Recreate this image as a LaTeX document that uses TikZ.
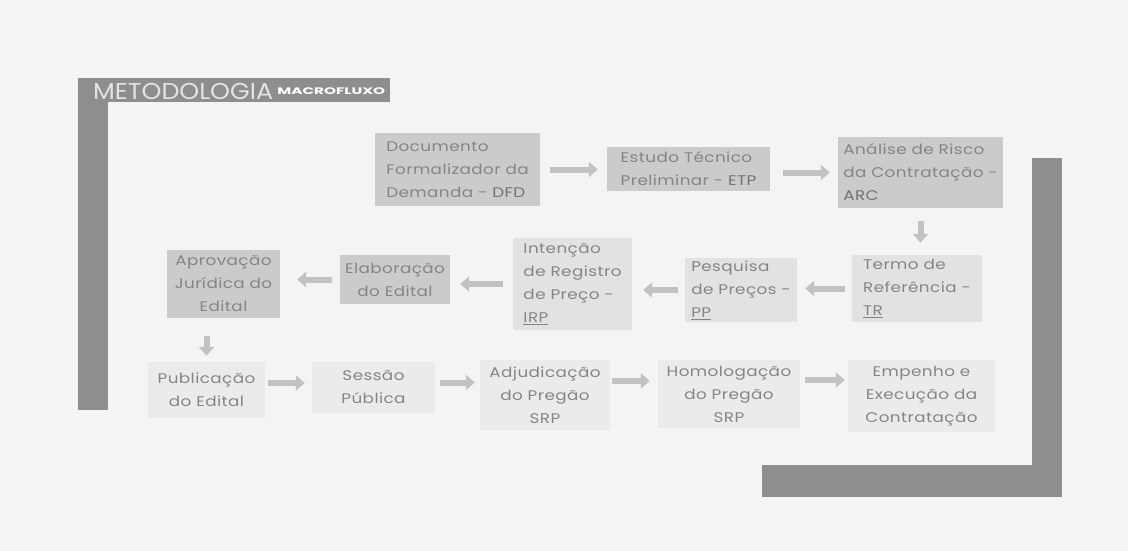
\documentclass[tikz,border=0pt]{standalone}
\usepackage{fontspec}
\setmainfont{Poppins}
\newfontfamily\boxfont[FakeStretch=1.2, LetterSpace=3]{Poppins}
\newfontfamily\titlefont[FakeStretch=1.1]{Poppins}
\usetikzlibrary{arrows.meta}
\definecolor{paper}{HTML}{F4F4F4}
\definecolor{barc}{HTML}{8E8E8E}
\definecolor{darkbox}{HTML}{CBCBCB}
\definecolor{midbox}{HTML}{E2E2E2}
\definecolor{lightbox}{HTML}{EBEBEB}
\definecolor{txt}{HTML}{858585}
\definecolor{arrowc}{HTML}{C2C2C2}
\tikzset{
  box/.style={inner sep=3pt, text=txt, font=\boxfont\fontsize{14}{23}\selectfont},
  dbox/.style={box, fill=darkbox},
  mbox/.style={box, fill=midbox},
  lbox/.style={box, fill=lightbox, align=center},
  flow/.style={line width=6pt, draw=arrowc, -{Triangle[width=15pt,length=9pt]}},
}
\begin{document}
\begin{tikzpicture}[x=1pt,y=-1pt]
\useasboundingbox (0,0) rectangle (1128,551);
\fill[paper] (0,0) rectangle (1128,551);
% brackets
\fill[barc] (78,78) rectangle (108,410);
\fill[barc] (78,78) rectangle (390,102);
\fill[barc] (1032,158) rectangle (1062,497);
\fill[barc] (762,465) rectangle (1062,497);
\node[anchor=west, inner sep=0pt, text=white!75!barc, font=\titlefont\fontsize{23}{23}\selectfont] (title) at (93,91) {METODOLOGIA};
\node[anchor=west, inner sep=0pt, text=white, font=\bfseries\fontsize{9.5}{10}\selectfont] (macro) at ([xshift=4pt]title.east) {\scalebox{1.6}[1]{MACROFLUXO}};
% row 1
\node[dbox, minimum width=165, minimum height=73, align=left] (dfd) at (457.5,169.5) {Documento\\Formalizador da\\Demanda - \textcolor{black!55}{DFD}};
\node[dbox, minimum width=163, minimum height=44, align=left] (etp) at (688.5,169) {Estudo Técnico\\Preliminar - \textcolor{black!55}{ETP}};
\node[dbox, minimum width=165, minimum height=71, align=left] (arc) at (920.5,172.5) {Análise de Risco\\da Contratação -\\\textcolor{black!55}{ARC}};
% row 2
\node[mbox, minimum width=130, minimum height=67, align=left] (tr) at (917,288.5) {Termo de\\Referência -\\\underline{TR}};
\node[mbox, minimum width=112, minimum height=64, align=left] (pp) at (741,290) {Pesquisa\\de Preços -\\\underline{PP}};
\node[mbox, minimum width=119, minimum height=92, align=left] (irp) at (572.5,284) {Intenção\\de Registro\\de Preço -\\\underline{IRP}};
\node[dbox, minimum width=110, minimum height=49, align=center] (elab) at (395,279.5) {Elaboração\\do Edital};
\node[dbox, minimum width=113, minimum height=68, align=center] (aprov) at (223.5,284) {Aprovação\\Jurídica do\\Edital};
% row 3
\node[lbox, minimum width=117, minimum height=56] (pub) at (206.5,390) {Publicação\\do Edital};
\node[lbox, minimum width=123, minimum height=51] (sess) at (373.5,387.5) {Sessão\\Pública};
\node[lbox, minimum width=130, minimum height=70] (adj) at (545,395) {Adjudicação\\do Pregão\\SRP};
\node[lbox, minimum width=142, minimum height=68] (hom) at (729,394) {Homologação\\do Pregão\\SRP};
\node[lbox, minimum width=147, minimum height=72] (emp) at (921.5,396) {Empenho e\\Execução da\\Contratação};
% connectors
\draw[flow, shorten <=10pt, shorten >=9pt] (dfd.east) -- (dfd.east -| etp.west);
\draw[flow, shorten <=13pt, shorten >=8pt] (etp.east |- arc.west) -- (arc.west);
\draw[flow, shorten <=13pt, shorten >=12pt] (arc.south) -- (arc.south |- tr.north);
\draw[flow, shorten <=7pt, shorten >=8pt] (tr.west) -- (tr.west -| pp.east);
\draw[flow, shorten <=7pt, shorten >=11pt] (pp.west) -- (pp.west -| irp.east);
\draw[flow, shorten <=10pt, shorten >=10pt] (irp.west) -- (irp.west -| elab.east);
\draw[flow, shorten <=8pt, shorten >=17pt] (elab.west) -- (elab.west -| aprov.east);
\draw[flow, shorten <=18pt, shorten >=6pt] (pub.north |- aprov.south) -- (pub.north);
\draw[flow, shorten <=3pt, shorten >=7pt] ([yshift=7pt]pub.east) -- ([yshift=7pt]pub.east -| sess.west);
\draw[flow, shorten <=5pt, shorten >=5pt] ([yshift=5pt]sess.east) -- ([yshift=5pt]sess.east -| adj.west);
\draw[flow, shorten <=2pt, shorten >=8pt] ([yshift=14pt]adj.east) -- ([yshift=14pt]adj.east -| hom.west);
\draw[flow, shorten <=5pt, shorten >=3pt] ([yshift=14pt]hom.east) -- ([yshift=14pt]hom.east -| emp.west);
\end{tikzpicture}
\end{document}
